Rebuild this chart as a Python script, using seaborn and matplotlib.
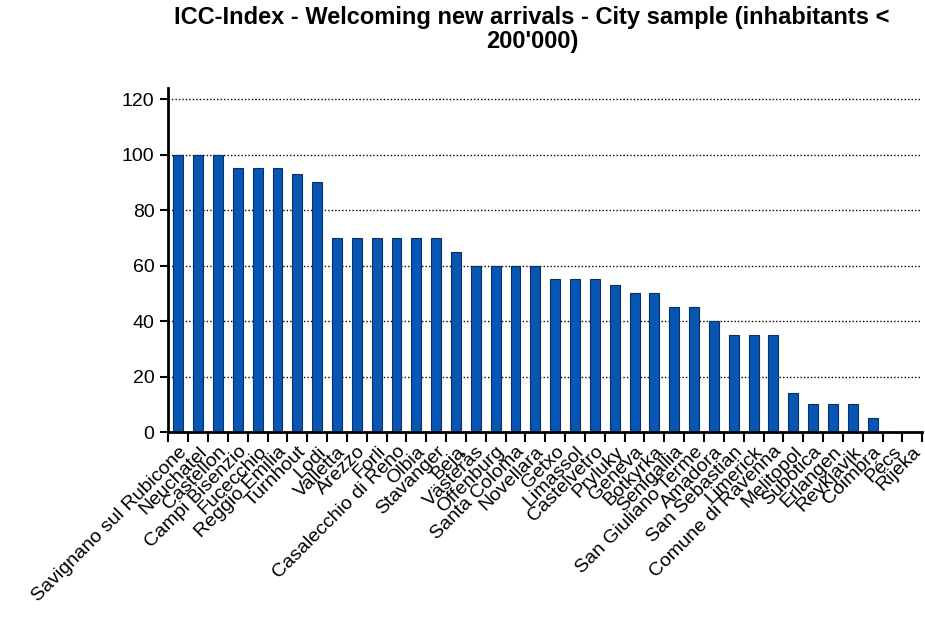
import matplotlib
matplotlib.use("Agg")
import matplotlib.pyplot as plt
import numpy as np
import pandas as pd
import seaborn as sns
from matplotlib.ticker import FixedLocator

cities = [
    "Savignano sul Rubicone", "Neuchatel", "Castellon", "Campi Bisenzio",
    "Fucecchio", "Reggio Emilia", "Turnhout", "Lodi", "Valletta", "Arezzo",
    "Forli", "Casalecchio di Reno", "Olbia", "Stavanger", "Beja", "Västerås",
    "Offenburg", "Santa Coloma", "Novellara", "Getxo", "Limassol",
    "Castelvetro", "Pryluky", "Geneva", "Botkyrka", "Senigallia",
    "San Giuliano Terme", "Amadora", "San Sebastian", "Limerick",
    "Comune di Ravenna", "Melitopol", "Subotica", "Erlangen", "Reykjavik",
    "Coimbra", "Pécs", "Rijeka",
]
scores = [
    100, 100, 100, 95, 95, 95, 93, 90, 70, 70,
    70, 70, 70, 70, 65, 60, 60, 60, 60, 55,
    55, 55, 53, 50, 50, 45, 45, 40, 35, 35,
    35, 14, 10, 10, 10, 5, 0, 0,
]
title = "ICC-Index - Welcoming new arrivals - City sample (inhabitants <\n200'000)"

df = pd.DataFrame({"city": cities, "score": scores})

sns.set_theme(style="white")
plt.rcParams["font.family"] = ["Liberation Sans", "DejaVu Sans"]
plt.rcParams["text.color"] = "black"
plt.rcParams["xtick.color"] = "black"
plt.rcParams["ytick.color"] = "black"

fig = plt.figure(figsize=(9.25, 6.19), dpi=100)
ax = fig.add_axes([0.182, 0.302, 0.815, 0.556])

sns.barplot(data=df, x="city", y="score", color="#0756b3", width=0.5,
            edgecolor="#0a2f66", linewidth=0.8, saturation=1, ax=ax)

ax.set_ylim(0, 124)
ax.set_xlim(-0.5, len(cities) - 0.5)
ax.set_yticks(np.arange(0, 121, 20))
ax.yaxis.grid(True, color="black", linestyle=(0, (1, 1.5)), linewidth=1)
ax.set_axisbelow(True)

for side in ["top", "right"]:
    ax.spines[side].set_visible(False)
for side in ["left", "bottom"]:
    ax.spines[side].set_color("black")
    ax.spines[side].set_linewidth(2)

ax.tick_params(axis="y", which="major", left=True, length=6, width=1.5,
               color="black", labelsize=14, pad=4)
ax.tick_params(axis="x", which="major", bottom=False, labelsize=14, pad=2)
ax.xaxis.set_minor_locator(FixedLocator(np.arange(-0.5, len(cities), 1.0)))
ax.tick_params(axis="x", which="minor", bottom=True, length=7, width=1.5, color="black")

ax.set_xticks(range(len(cities)))
ax.set_xticklabels(cities, rotation=45, ha="right", rotation_mode="anchor")
ax.set_xlabel("")
ax.set_ylabel("")

fig.suptitle(title, x=0.575, y=0.99, fontsize=17, fontweight="bold",
             linespacing=1.05, color="black")

fig.savefig("out.png", dpi=100)
